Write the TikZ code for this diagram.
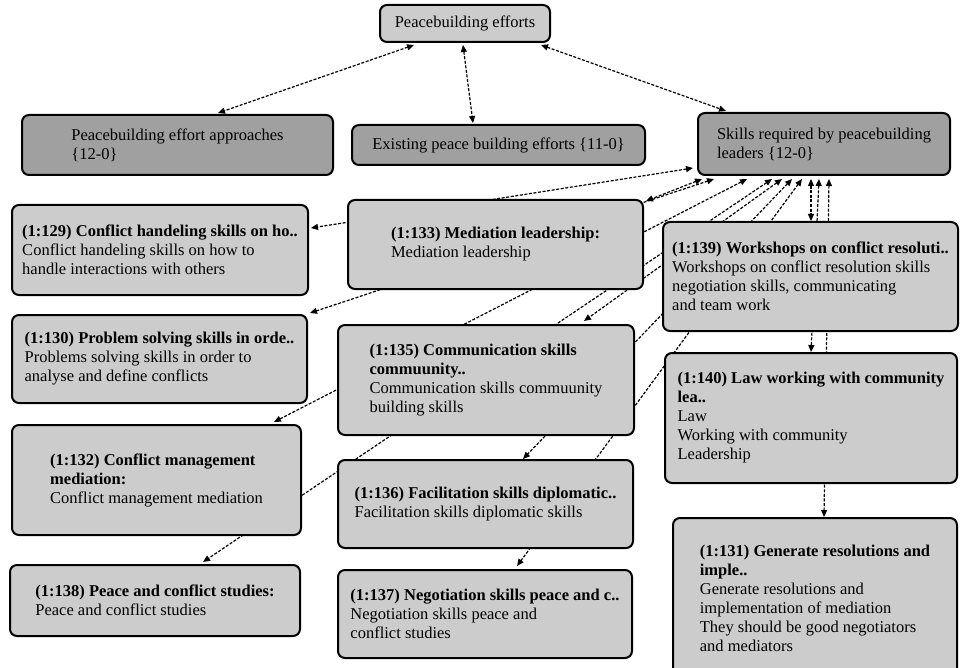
\documentclass[tikz,border=0pt]{standalone}
\usepackage{fontspec}
\setmainfont{Liberation Serif}
\usepackage{tikz}
\usetikzlibrary{calc,arrows.meta}
\pgfdeclarelayer{bg}
\pgfsetlayers{bg,main}
\definecolor{codegray}{HTML}{CCCCCC}
\definecolor{famgray}{HTML}{A0A0A0}

\begin{document}
\begin{tikzpicture}[x=1pt,y=-1pt]
	\tikzstyle{box} = [draw, line width=2pt, rounded corners=7pt, align=left, font=\fontsize{16.5}{19}\selectfont, inner sep=0pt];
	\tikzstyle{code} = [box, fill=codegray];
	\tikzstyle{family} = [box, fill=famgray];
	\tikzstyle{link} = [line width=1.2pt, dash pattern=on 3pt off 1.6pt, {Triangle[length=7pt,width=6pt]}-{Triangle[length=7pt,width=6pt]}];
	\useasboundingbox (0,0) rectangle (960,668);
	
	% top level
	\node[box, fill=codegray, minimum width=170, minimum height=37] (PE) at (465,23.5) {Peacebuilding efforts};
	\node[family, minimum width=311, minimum height=60] (PEA) at (177.5,145) {Peacebuilding effort approaches\\\{12-0\}};
	\node[family, minimum width=293, minimum height=40] (EPE) at (498.5,145) {Existing peace building efforts \{11-0\}};
	\node[family, minimum width=252, minimum height=62] (SRL) at (824,144) {Skills required by peacebuilding\\leaders \{12-0\}};
	
	% codes
	\node[code, minimum width=296, minimum height=90] (C129) at (160,250) {\textbf{(1:129) Conflict handeling skills on ho..}\\Conflict handeling skills on how to\\handle interactions with others};
	\node[code, minimum width=295, minimum height=89] (C133) at (495.5,244.5) {\textbf{(1:133) Mediation leadership:}\\Mediation leadership};
	\node[code, minimum width=295, minimum height=109] (C139) at (810.5,276.5) {\textbf{(1:139) Workshops on conflict resoluti..}\\Workshops on conflict resolution skills\\negotiation skills, communicating\\and team work};
	\node[code, minimum width=295, minimum height=88] (C130) at (159.5,359) {\textbf{(1:130) Problem solving skills in orde..}\\Problems solving skills in order to\\analyse and define conflicts};
	\node[code, minimum width=296, minimum height=110] (C135) at (486,380) {\textbf{(1:135) Communication skills}\\\textbf{commuunity..}\\Communication skills commuunity\\building skills};
	\node[code, minimum width=292, minimum height=130] (C140) at (811,418) {\textbf{(1:140) Law working with community}\\\textbf{lea..}\\Law\\Working with community\\Leadership};
	\node[code, minimum width=289, minimum height=110] (C132) at (156.5,480) {\textbf{(1:132) Conflict management}\\\textbf{mediation:}\\Conflict management mediation};
	\node[code, minimum width=295, minimum height=88] (C136) at (485.5,504) {\textbf{(1:136) Facilitation skills diplomatic..}\\Facilitation skills diplomatic skills};
	\node[code, minimum width=290, minimum height=71] (C138) at (155,600.5) {\textbf{(1:138) Peace and conflict studies:}\\Peace and conflict studies};
	\node[code, minimum width=294, minimum height=88] (C137) at (485,614) {\textbf{(1:137) Negotiation skills peace and c..}\\Negotiation skills peace and\\conflict studies};
	\node[code, minimum width=284, minimum height=160] (C131) at (815,598) {\textbf{(1:131) Generate resolutions and}\\\textbf{imple..}\\Generate resolutions and\\implementation of mediation\\They should be good negotiators\\and mediators};
	
	\begin{pgfonlayer}{bg}
	\path ($(PE.south west)+(35,2)$) edge[link] ($(PEA.north)+(40.5,-1)$);
	\path ($(PE.south)+(-2,2)$) edge[link] ($(EPE.north)+(-25.5,-1)$);
	\path ($(PE.south east)+(-10,2)$) edge[link] ($(SRL.north west)+(29,-1)$);
	
	\path ($(SRL.south west)+(-4,-8)$) edge[link] ($(C129.east)+(2,-22)$);
	\path ($(SRL.south west)+(5,3)$) edge[link] ($(C133.north east)+(2,2)$);
	\path ($(SRL.south west)+(17,3)$) edge[link] ($(C130.north east)+(2,-1)$);
	\path ($(SRL.south west)+(50,3)$) edge[link] ($(C132.north east)+(-28,-2)$);
	\path ($(SRL.south west)+(75,3)$) edge[link] ($(C138.north)+(48,-2)$);
	\path ($(SRL.south west)+(85,3)$) edge[link] ($(C135.north east)+(-51,-3)$);
	\path ($(SRL.south west)+(95,3)$) edge[link] ($(C136.north)+(37.5,0)$);
	\path ($(SRL.south west)+(105,3)$) edge[link] ($(C137.north)+(32,-3)$);
	\path ($(SRL.south west)+(114,3)$) edge[link] ($(C139.north west)+(149,0)$);
	\path ($(SRL.south west)+(122,3)$) edge[link] ($(C140.north west)+(147,0)$);
	\path ($(SRL.south west)+(132,3)$) edge[link] ($(C131.north west)+(152,0)$);
	\end{pgfonlayer}
\end{tikzpicture}
\end{document}
